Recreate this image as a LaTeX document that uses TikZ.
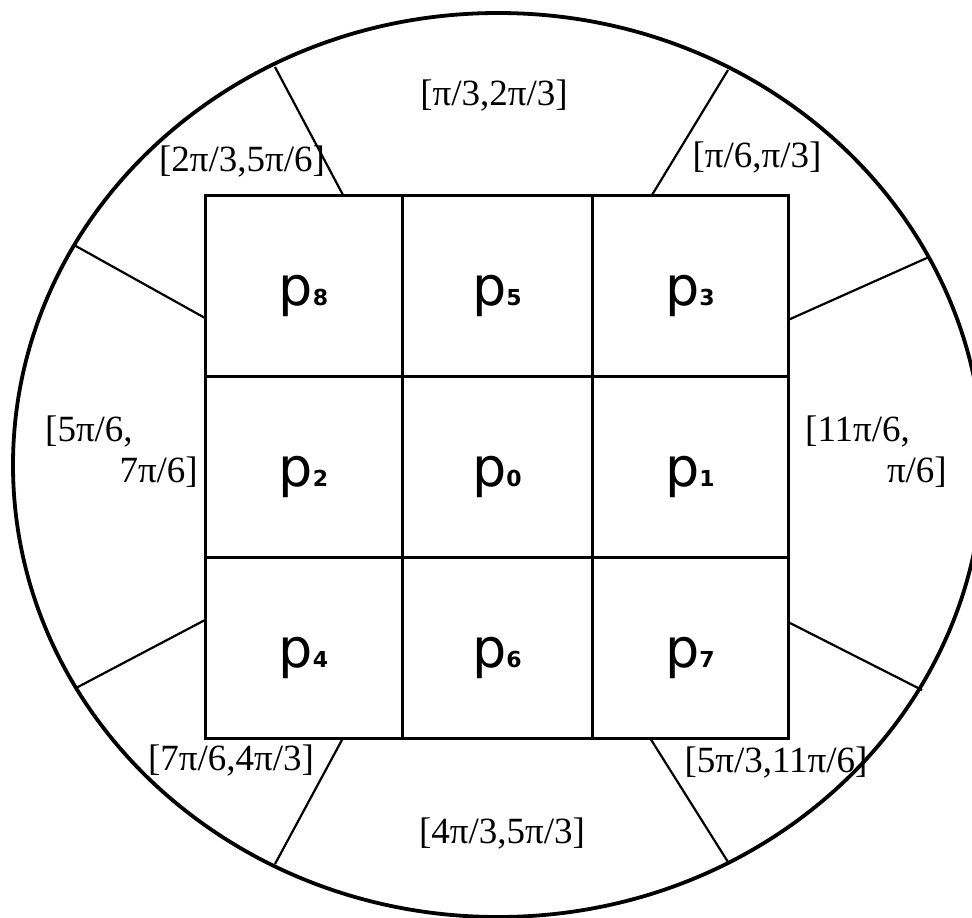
\documentclass[tikz,border=0pt]{standalone}
\usepackage{fontspec}
\setmainfont{Liberation Serif}
\newfontfamily\psans{DejaVu Sans}
\begin{document}
\begin{tikzpicture}[x=1pt,y=-1pt,
  gridline/.style={line width=3pt},
  rim/.style={line width=3.8pt},
  spoke/.style={line width=2.2pt},
  rng/.style={font=\fontsize{37}{37}\selectfont, inner sep=0pt},
  pl/.style={font=\psans\fontsize{54}{54}\selectfont, inner sep=0pt, anchor=base}]
\useasboundingbox (0,0) rectangle (972,918);
\begin{scope}
\clip (0,0) rectangle (972,918);
\draw[rim] (498,465) ellipse [x radius=485pt, y radius=452pt];
\end{scope}
% grid
\draw[gridline] (205,195) rectangle (788,738);
\draw[gridline] (402,195) -- (402,738);
\draw[gridline] (592,195) -- (592,738);
\draw[gridline] (205,376) -- (788,376);
\draw[gridline] (205,557) -- (788,557);
% cell labels
\newcommand{\pcell}[1]{p{\fontsize{22}{22}\selectfont\bfseries #1}}
\node[pl] (p8) at (303.5,305) {\pcell{8}};
\node[pl] (p5) at (497,305) {\pcell{5}};
\node[pl] (p3) at (690,305) {\pcell{3}};
\node[pl] (p2) at (303.5,486) {\pcell{2}};
\node[pl] (p0) at (497,486) {\pcell{0}};
\node[pl] (p1) at (690,486) {\pcell{1}};
\node[pl] (p4) at (303.5,667) {\pcell{4}};
\node[pl] (p6) at (497,667) {\pcell{6}};
\node[pl] (p7) at (690,667) {\pcell{7}};
% spoke end points
\coordinate (tlo) at (275,67);  \coordinate (tli) at (343,195);
\coordinate (tro) at (728,70);  \coordinate (tri) at (652,195);
\coordinate (ruo) at (929,257); \coordinate (rui) at (788,320);
\coordinate (rlo) at (922,690); \coordinate (rli) at (788,622);
\coordinate (bro) at (728,862); \coordinate (bri) at (650,738);
\coordinate (blo) at (275,864); \coordinate (bli) at (343,738);
\coordinate (llo) at (76,688);  \coordinate (lli) at (205,620);
\coordinate (luo) at (74,245);  \coordinate (lui) at (205,318);
\draw[spoke] (tlo) -- (tli);
\draw[spoke] (tro) -- (tri);
\draw[spoke] (ruo) -- (rui);
\draw[spoke] (rlo) -- (rli);
\draw[spoke] (bro) -- (bri);
\draw[spoke] (blo) -- (bli);
\draw[spoke] (llo) -- (lli);
\draw[spoke] (luo) -- (lui);
% range labels
\node[rng] (ltop) at (494,96) {[π/3,2π/3]};
\node[rng] (ltr) at (757,158) {[π/6,π/3]};
\node[rng] (ltl) at (242,162) {[2π/3,5π/6]};
\node[rng, anchor=west] (lla) at (45,432) {[5π/6,};
\node[rng, anchor=east] (llb) at (198,472) {7π/6]};
\node[rng, anchor=west] (lra) at (805,432) {[11π/6,};
\node[rng, anchor=east] (lrb) at (947,472) {π/6]};
\node[rng] (lbl) at (231,761) {[7π/6,4π/3]};
\node[rng] (lbr) at (776,763) {[5π/3,11π/6]};
\node[rng] (lbot) at (502,834) {[4π/3,5π/3]};
\end{tikzpicture}
\end{document}
